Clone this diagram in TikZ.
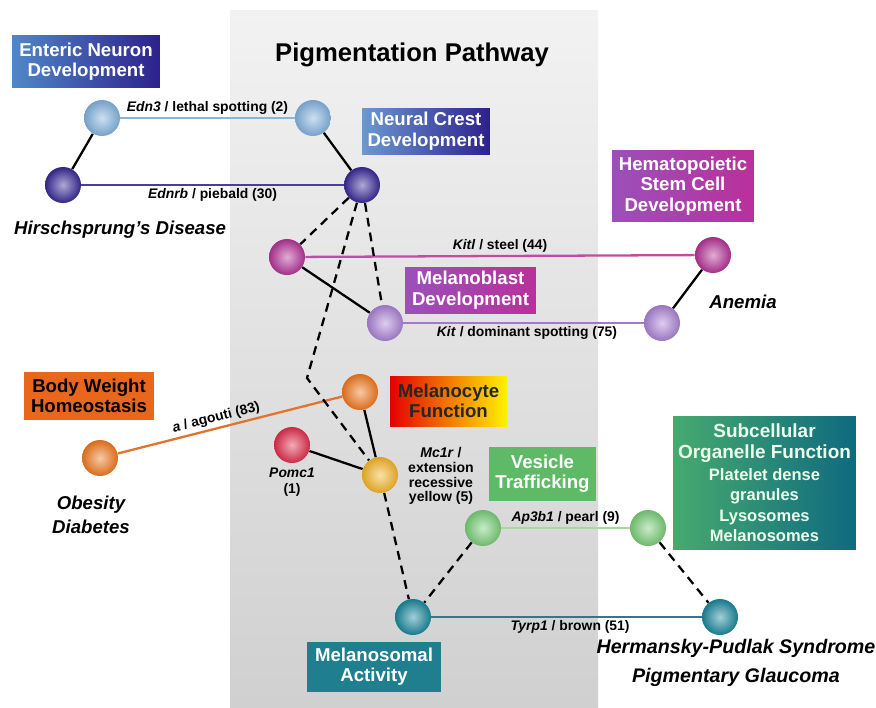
\documentclass[tikz,border=0pt]{standalone}
\usepackage{fontspec}
\setmainfont{Liberation Sans}
\usetikzlibrary{positioning}

\pgfdeclarelayer{panel}
\pgfdeclarelayer{edges}
\pgfsetlayers{panel,edges,main}

% 颜色
\definecolor{panTop}{RGB}{242,242,242}
\definecolor{panBot}{RGB}{208,208,208}
\definecolor{ballLB}{RGB}{130,178,222}
\definecolor{ballIn}{RGB}{55,40,150}
\definecolor{ballMg}{RGB}{180,50,150}
\definecolor{ballLv}{RGB}{170,130,212}
\definecolor{ballOr}{RGB}{240,120,30}
\definecolor{ballRd}{RGB}{225,45,75}
\definecolor{ballYe}{RGB}{245,180,40}
\definecolor{ballGr}{RGB}{120,205,120}
\definecolor{ballTl}{RGB}{25,135,155}
\definecolor{lnEdn}{RGB}{140,180,215}
\definecolor{lnEdr}{RGB}{75,60,165}
\definecolor{lnKtl}{RGB}{195,75,165}
\definecolor{lnKit}{RGB}{165,120,205}
\definecolor{lnAgo}{RGB}{225,115,45}
\definecolor{lnAp3}{RGB}{170,215,160}
\definecolor{lnTyr}{RGB}{60,115,140}
\definecolor{bxBlueL}{RGB}{80,135,200}
\definecolor{bxBlueR}{RGB}{45,33,140}
\definecolor{bxPurL}{RGB}{155,80,185}
\definecolor{bxPurR}{RGB}{185,48,155}
\definecolor{bxOr}{RGB}{232,103,28}
\definecolor{bxGr}{RGB}{95,186,104}
\definecolor{bxSubL}{RGB}{70,170,110}
\definecolor{bxSubR}{RGB}{14,106,128}
\definecolor{bxTl}{RGB}{31,127,143}

% 方框里的字号
\newcommand{\subbig}{\fontsize{10.8}{11.6}\selectfont}
\newcommand{\subsml}{\fontsize{9.4}{9.4}\selectfont}

\begin{document}
\begin{tikzpicture}[x=0.02cm, y=-0.02cm,
    sph/.style={circle, minimum size=0.72cm, inner sep=0pt, inner color=#1!40!white, outer color=#1!90!black},
    box/.style={font=\fontsize{10.6}{11.6}\selectfont\bfseries, text=white, align=center, inner sep=2pt},
    lbl/.style={font=\fontsize{7.9}{9}\selectfont\bfseries, inner sep=1.5pt},
    dis/.style={font=\fontsize{10.6}{14}\selectfont\bfseries\itshape, align=center},
    link/.style={line width=1.3pt},
    dsh/.style={line width=1.3pt, dash pattern=on 5pt off 3.5pt}]
    \useasboundingbox (0,0) rectangle (876,707);

    % 灰色背景
    \begin{pgfonlayer}{panel}
        \shade[top color=panTop, bottom color=panBot] (230,10) rectangle (598,707);
    \end{pgfonlayer}

    % 标题
    \node[font=\fontsize{14.6}{17}\selectfont\bfseries] (title) at (412,55) {Pigmentation Pathway};

    % 方框
    \node[box, minimum width=2.96cm, minimum height=1.06cm, left color=bxBlueL, right color=bxBlueR]
        (bEnt) at (86,61.5) {Enteric Neuron\\Development};
    \node[box, minimum width=2.56cm, minimum height=0.92cm, left color=bxBlueL!85!white, right color=bxBlueR]
        (bNeu) at (426,131) {Neural Crest\\Development};
    \node[box, minimum width=2.84cm, minimum height=1.44cm, left color=bxPurL, right color=bxPurR]
        (bHem) at (683,186) {Hematopoietic\\Stem Cell\\Development};
    \node[box, minimum width=2.62cm, minimum height=0.92cm, left color=bxPurL, right color=bxPurR]
        (bMlb) at (470.5,290) {Melanoblast\\Development};
    \node[box, text=black, minimum width=2.6cm, minimum height=0.96cm, fill=bxOr]
        (bBod) at (89,396) {Body Weight\\Homeostasis};
    \node[box, text=black!85, minimum width=2.34cm, minimum height=1.0cm, left color=red!90!black, middle color=orange!90!red, right color=yellow!90!orange]
        (bMcf) at (448.5,401) {Melanocyte\\Function};
    \node[box, minimum width=2.14cm, minimum height=1.08cm, fill=bxGr]
        (bVes) at (542.5,474) {Vesicle\\Trafficking};
    \node[box, text=white!92!green, minimum width=3.66cm, minimum height=2.66cm, left color=bxSubL, right color=bxSubR]
        (bSub) at (764.5,483) {\subbig Subcellular\\\subbig Organelle Function\\[1pt]
        \subsml Platelet dense\\\subsml granules\\\subsml Lysosomes\\\subsml Melanosomes};
    \node[box, minimum width=2.68cm, minimum height=1.0cm, fill=bxTl]
        (bMel) at (374,666.5) {Melanosomal\\Activity};

    % 小球
    \node[sph=ballLB] (e1) at (102,118) {};
    \node[sph=ballLB] (e2) at (313,118) {};
    \node[sph=ballIn] (n1) at (63,185) {};
    \node[sph=ballIn] (n2) at (362,185) {};
    \node[sph=ballMg] (k1) at (287,257) {};
    \node[sph=ballMg] (k2) at (713,255) {};
    \node[sph=ballLv] (m1) at (385,323) {};
    \node[sph=ballLv] (m2) at (662,323) {};
    \node[sph=ballOr] (a1) at (360,392) {};
    \node[sph=ballOr] (a2) at (100,458) {};
    \node[sph=ballRd] (p) at (292,445) {};
    \node[sph=ballYe] (y) at (380,475) {};
    \node[sph=ballGr] (v1) at (483,528) {};
    \node[sph=ballGr] (v2) at (648,528) {};
    \node[sph=ballTl] (t1) at (413,617) {};
    \node[sph=ballTl] (t2) at (720,617) {};
    \coordinate (bend) at (307,378);

    % 疾病
    \node[dis, anchor=west] (hir) at (8,230) {Hirschsprung's Disease};
    \node[dis] (ane) at (743,302) {Anemia};
    \node[dis] (obe) at (91,515) {Obesity\\Diabetes};
    \node[dis, font=\fontsize{11.2}{16.5}\selectfont\bfseries\itshape] (her) at (736,663) {Hermansky-Pudlak Syndrome\\Pigmentary Glaucoma};

    % 基因标注
    \node[lbl, below=1pt of p, align=center] (pomc) {\textit{Pomc1}\\(1)};
    \node[lbl, align=center, font=\fontsize{8}{8.4}\selectfont\bfseries] (mc1r) at (441,476)
        {\textit{Mc1r} /\\extension\\recessive\\yellow (5)};

    % 连线
    \begin{pgfonlayer}{edges}
        \draw[link, lnEdn] (e1) -- node[lbl, above, text=black] {\textit{Edn3} / lethal spotting (2)} (e2);
        \draw[link, lnEdr] (n1) -- node[lbl, below, text=black] {\textit{Ednrb} / piebald (30)} (n2);
        \draw[link, lnKtl] (k1) -- node[lbl, above, text=black] {\textit{Kitl} / steel (44)} (k2);
        \draw[link, lnKit] (m1) -- node[lbl, below, text=black, xshift=2pt] {\textit{Kit} / dominant spotting (75)} (m2);
        \draw[link, lnAgo] (a2) -- node[lbl, above, sloped, pos=0.45, text=black] {\textit{a} / agouti (83)} (a1);
        \draw[link, lnAp3] (v1) -- node[lbl, above, text=black] {\textit{Ap3b1} / pearl (9)} (v2);
        \draw[link, lnTyr] (t1) -- node[lbl, below, text=black, xshift=2pt] {\textit{Tyrp1} / brown (51)} (t2);

        \draw[link] (e1) -- (n1);
        \draw[link] (e2) -- (n2);
        \draw[link] (k1) -- (m1);
        \draw[link] (k2) -- (m2);
        \draw[link] (a1) -- (y);
        \draw[link] (p) -- (y);

        \draw[dsh] (n2) -- (k1);
        \draw[dsh] (n2) -- (m1);
        \draw[dsh] (n2) -- (bend) -- (y);
        \draw[dsh] (y) -- (t1);
        \draw[dsh] (v1) -- (t1);
        \draw[dsh] (v2) -- (t2);
    \end{pgfonlayer}
\end{tikzpicture}
\end{document}
